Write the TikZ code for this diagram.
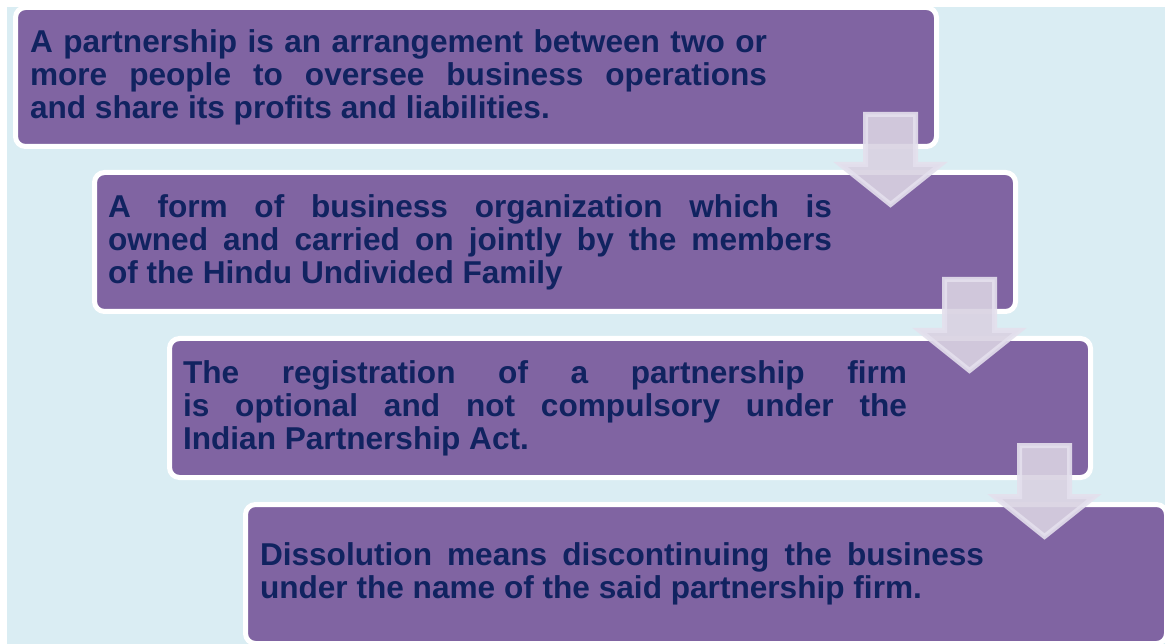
\documentclass[tikz,border=0pt]{standalone}
\usepackage{fontspec}
\setmainfont{Liberation Sans}
\usetikzlibrary{positioning,calc}

\definecolor{boxpurple}{RGB}{128,100,162}
\definecolor{skyback}{RGB}{218,237,243}
\definecolor{navytext}{RGB}{17,35,96}
\definecolor{arrowfill}{RGB}{217,210,226}
\definecolor{arrowedge}{RGB}{228,224,237}

\newcommand{\flowarrow}[2]{%
  \coordinate (top) at ($(#1.south east)+(-46,-32)$);
  \coordinate (tip) at ($(top |- #2.north)+(0,32)$);
  \draw[flowarr] ($(top)+(-25,0)$) -- ($(top)+(25,0)$) -- ($(tip)+(25,-40)$) -- ($(tip)+(50,-40)$) -- (tip) -- ($(tip)+(-50,-40)$) -- ($(tip)+(-25,-40)$) -- cycle;
}

\begin{document}
\begin{tikzpicture}[x=1pt,y=-1pt,
    stepbox/.style={fill=boxpurple,draw=white,line width=5pt,rounded corners=10pt,minimum width=921pt,minimum height=139pt,outer sep=0pt,anchor=north west},
    steptext/.style={inner sep=0pt,outer sep=0pt,text=navytext,align=justify,font=\fontsize{31.6}{33}\selectfont\bfseries},
    flowarr/.style={fill=arrowfill,draw=arrowedge,line width=5pt,miter limit=20,fill opacity=.9,draw opacity=.9}]
            \useasboundingbox (0,0) rectangle (1165,644);
            \fill[skyback] (7,7) rectangle (1165,644);

            \node[stepbox] (box1) at (15.5,7.5) {};
            \node[stepbox] (box2) at (94.5,172.5) {};
            \node[stepbox] (box3) at (169.5,338.5) {};
            \node[stepbox] (box4) at (245.5,504.5) {};

            \node[steptext,text width=737pt,right=14.5pt of box1.west] (txt1) {A partnership is an arrangement between two or\linebreak more people to oversee business operations\linebreak and share its profits and liabilities.};
            \node[steptext,text width=724pt,right=13.5pt of box2.west] (txt2) {A form of business organization which is\linebreak owned and carried on jointly by the members\linebreak of the Hindu Undivided Family};
            \node[steptext,text width=724pt,right=13.5pt of box3.west] (txt3) {The registration of a partnership firm\linebreak is optional and not compulsory under the\linebreak Indian Partnership Act.};
            \node[steptext,text width=724pt,right=14.5pt of box4.west] (txt4) {Dissolution means discontinuing the business\linebreak under the name of the said partnership firm.};

            \flowarrow{box1}{box2}
            \flowarrow{box2}{box3}
            \flowarrow{box3}{box4}
          \end{tikzpicture}
\end{document}
